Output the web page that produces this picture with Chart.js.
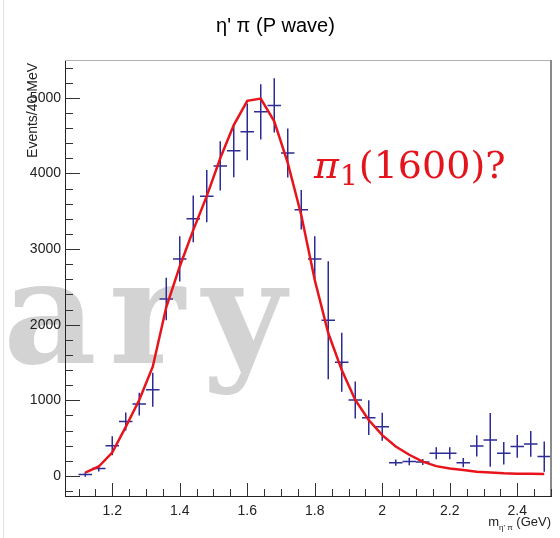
<!DOCTYPE html>
<html>
<head>
<meta charset="utf-8">
<script src="https://cdn.jsdelivr.net/npm/chart.js@4"></script>
<style>
  html, body { margin: 0; padding: 0; background: #fff; }
  #wrap { width: 560px; height: 538px; position: relative; }
</style>
</head>
<body>
<div id="wrap"><canvas id="etaPiChart"></canvas></div>
<script>
// bin centres (GeV), 40 MeV bins
const binCenters = [1.12, 1.16, 1.20, 1.24, 1.28, 1.32, 1.36, 1.40, 1.44, 1.48, 1.52, 1.56,
  1.60, 1.64, 1.68, 1.72, 1.76, 1.80, 1.84, 1.88, 1.92, 1.96, 2.00, 2.04, 2.08, 2.12,
  2.16, 2.20, 2.24, 2.28, 2.32, 2.36, 2.40, 2.44, 2.48];
const counts = [20, 100, 400, 720, 950, 1140, 2340, 2870, 3400, 3700, 4100, 4300,
  4550, 4815, 4900, 4270, 3520, 2870, 2060, 1505, 1005, 770, 650, 176, 190, 185,
  300, 300, 176, 397, 476, 300, 390, 423, 256];
const countErrors = [30, 40, 125, 120, 150, 225, 280, 300, 310, 345, 325, 350,
  375, 365, 360, 325, 260, 300, 780, 390, 245, 230, 185, 40, 50, 40,
  80, 80, 60, 140, 355, 150, 150, 170, 200];
const fitValues = [45, 125, 310, 650, 1005, 1445, 2230, 2770, 3250, 3700, 4200, 4640,
  4960, 4990, 4690, 4140, 3450, 2590, 1890, 1400, 1005, 740, 540, 390, 280, 190,
  130, 100, 80, 57, 45, 35, 30, 30, 25];
const binHalfWidth = 0.02;
const xTickValues = [1.2, 1.4, 1.6, 1.8, 2.0, 2.2, 2.4];
const yTickValues = [0, 1000, 2000, 3000, 4000, 5000];

const fontsToLoad = [
  "bold 144px 'DejaVu Serif'",
  "14px 'Liberation Sans'",
  "38px 'DejaVu Serif'",
  "italic 38px 'DejaVu Serif'"
];

function drawChart() {
  const ctx = document.getElementById("etaPiChart");

  /* ---- ROOT-style decorations ---- */
  const rootStyle = {
    id: "rootStyle",
    beforeDraw(chart) {
      const c = chart.ctx;
      c.save();
      // slide border
      c.strokeStyle = "#e2e2e2";
      c.lineWidth = 1;
      c.beginPath(); c.moveTo(3.5, 0); c.lineTo(3.5, 538); c.stroke();
      // "Preliminary" watermark, cut at the left (monospaced cells)
      c.fillStyle = "#d3d3d3";
      c.font = "bold 144px 'DejaVu Serif'";
      c.textBaseline = "alphabetic";
      c.textAlign = "center";
      ["a", "r", "y"].forEach((ch, i) => c.fillText(ch, 50 + i * 97, 363));
      c.restore();
    },
    beforeDatasetsDraw(chart) {
      const c = chart.ctx, xs = chart.scales.x, ys = chart.scales.y;
      c.save();
      c.strokeStyle = "#2c2c94";
      c.lineWidth = 1.5;
      binCenters.forEach((x, i) => {
        const px = xs.getPixelForValue(x), py = ys.getPixelForValue(counts[i]);
        c.beginPath();
        c.moveTo(xs.getPixelForValue(x - binHalfWidth), py);
        c.lineTo(xs.getPixelForValue(x + binHalfWidth), py);
        c.moveTo(px, ys.getPixelForValue(counts[i] - countErrors[i]));
        c.lineTo(px, ys.getPixelForValue(counts[i] + countErrors[i]));
        c.stroke();
      });
      c.restore();
    },
    afterDraw(chart) {
      const c = chart.ctx, a = chart.chartArea, xs = chart.scales.x, ys = chart.scales.y;
      c.save();
      // top and right frame
      c.strokeStyle = "#b0b0b0"; c.lineWidth = 1;
      c.beginPath(); c.moveTo(a.left, a.top + 0.5); c.lineTo(a.right, a.top + 0.5); c.stroke();
      c.strokeStyle = "#8a8a8a"; c.lineWidth = 2;
      c.beginPath(); c.moveTo(a.right, a.top); c.lineTo(a.right, a.bottom); c.stroke();

      // inside tick marks
      c.strokeStyle = "#333"; c.lineWidth = 1;
      c.beginPath();
      for (let v = -200; v <= 5400; v += 200) {
        const py = Math.round(ys.getPixelForValue(v)) + 0.5;
        const len = v % 1000 === 0 ? 15 : 8;
        c.moveTo(a.left, py); c.lineTo(a.left + len, py);
      }
      for (let k = 22; k <= 50; k++) {
        const v = k * 0.05;
        const px = Math.round(xs.getPixelForValue(v)) + 0.5;
        const len = k % 4 === 0 ? 13 : 7;
        c.moveTo(px, a.bottom); c.lineTo(px, a.bottom - len);
      }
      c.stroke();

      // y axis title
      c.fillStyle = "#222";
      c.font = "14px 'Liberation Sans'";
      c.save();
      c.translate(37, 63);
      c.rotate(-Math.PI / 2);
      c.textAlign = "right";
      c.textBaseline = "alphabetic";
      c.fillText("Events/40 MeV", 0, 0);
      c.restore();

      // x axis title: m_{η'π} (GeV)
      c.textBaseline = "alphabetic";
      c.textAlign = "left";
      const mainFont = "13px 'Liberation Sans'", subFont = "8px 'Liberation Sans'";
      c.font = mainFont; const wM = c.measureText("m").width, wG = c.measureText(" (GeV)").width;
      c.font = subFont; const wS = c.measureText("η' π").width;
      let x0 = a.right - (wM + wS + wG);
      c.font = mainFont; c.fillText("m", x0, 526);
      c.font = subFont; c.fillText("η' π", x0 + wM, 530);
      c.font = mainFont; c.fillText(" (GeV)", x0 + wM + wS, 526);

      // π1(1600)? label
      c.fillStyle = "#e3141b";
      let tx = xs.getPixelForValue(1.798);
      const ty = ys.getPixelForValue(3940);
      c.font = "italic 38px 'DejaVu Serif'";
      c.fillText("π", tx, ty);
      tx += c.measureText("π").width + 1;
      c.font = "28px 'DejaVu Serif'";
      c.fillText("1", tx, ty + 7);
      tx += c.measureText("1").width + 1;
      c.font = "38px 'DejaVu Serif'";
      c.fillText("(1600)?", tx, ty);
      c.restore();
    }
  };

  const tickFont = { family: "Liberation Sans", size: 14 };

  new Chart(ctx, {
    type: "scatter",
    data: {
      datasets: [{
        label: "Data",
        data: binCenters.map((x, i) => ({ x, y: counts[i] })),
        pointRadius: 0,
        showLine: false
      }, {
        label: "Fit",
        type: "line",
        data: binCenters.map((x, i) => ({ x, y: fitValues[i] })),
        borderColor: "#e8141c",
        borderWidth: 2.5,
        pointRadius: 0,
        tension: 0,
        fill: false
      }]
    },
    options: {
      responsive: true,
      maintainAspectRatio: false,
      animation: false,
      layout: { padding: { left: 0, right: 9, top: 0, bottom: 0 } },
      plugins: {
        legend: { display: false },
        tooltip: { enabled: false },
        title: {
          display: true,
          text: "η' π (P wave)",
          color: "#000",
          font: { family: "Liberation Sans", size: 20, weight: "normal" },
          padding: { top: 14, bottom: 22 }
        }
      },
      scales: {
        x: {
          type: "linear",
          min: 1.06,
          max: 2.5,
          afterBuildTicks: (s) => { s.ticks = xTickValues.map(v => ({ value: v })); },
          afterFit: (s) => { s.height = 42; },
          ticks: {
            font: tickFont, color: "#222", padding: 7, maxRotation: 0, autoSkip: false,
            callback: (v) => String(+v.toFixed(1))
          },
          grid: { display: false, drawTicks: false },
          border: { display: true, color: "#222", width: 1 }
        },
        y: {
          min: -265,
          max: 5500,
          afterBuildTicks: (s) => { s.ticks = yTickValues.map(v => ({ value: v })); },
          afterFit: (s) => { s.width = 65; },
          ticks: {
            font: tickFont, color: "#222", padding: 4, autoSkip: false,
            callback: (v) => String(v)
          },
          grid: { display: false, drawTicks: false },
          border: { display: true, color: "#222", width: 1 }
        }
      }
    },
    plugins: [rootStyle]
  });
}

document.addEventListener("DOMContentLoaded", () => {
  Promise.all(fontsToLoad.map(f => document.fonts.load(f)))
    .catch(() => {})
    .then(drawChart);
});
</script>
</body>
</html>
